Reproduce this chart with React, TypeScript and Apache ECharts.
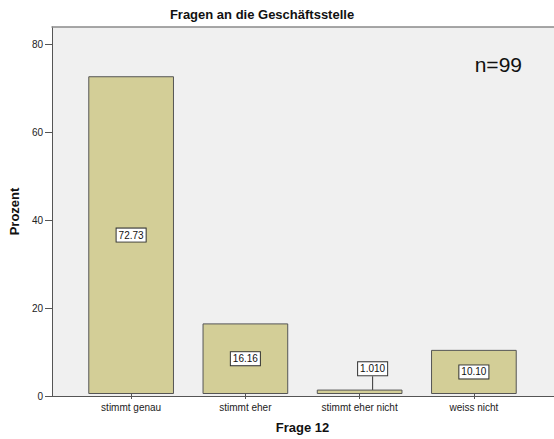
import React, { useEffect, useRef } from "react";
import * as echarts from "echarts";

const categories = ["stimmt genau", "stimmt eher", "stimmt eher nicht", "weiss nicht"];
const values = [72.73, 16.16, 1.01, 10.1];
const valueLabels = ["72.73", "16.16", "1.010", "10.10"];
const yTicks = { min: 0, max: 84, interval: 20 };
const titleText = "Fragen an die Geschäftsstelle";
const nText = "n=99";
const xName = "Frage 12";
const yName = "Prozent";

const FONT = "Liberation Sans, Arial, sans-serif";

export default function App() {
  const ref = useRef<HTMLDivElement>(null);
  useEffect(() => {
    if (!ref.current) return;
    const chart = echarts.init(ref.current, undefined, { renderer: "svg" });
    chart.setOption({
      animation: false,
      backgroundColor: "#ffffff",
      textStyle: { fontFamily: FONT },
      graphic: [
        {
          type: "text",
          x: 262,
          y: 8,
          style: {
            text: titleText,
            fontFamily: FONT,
            fontSize: 13,
            fontWeight: "bold",
            fill: "#111",
            textAlign: "center",
            textVerticalAlign: "top",
          },
        },
        {
          type: "text",
          x: 522,
          y: 54,
          style: {
            text: nText,
            fontFamily: FONT,
            fontSize: 21,
            fill: "#111",
            textAlign: "right",
            textVerticalAlign: "top",
          },
        },
      ],
      grid: [
        {
          left: 48,
          right: -2,
          top: 27,
          bottom: 43,
          show: true,
          backgroundColor: "#F0F0F0",
          borderWidth: 0,
        },
        { left: 74, right: 23, top: 27, bottom: 43 },
      ],
      xAxis: [
        {
          gridIndex: 0,
          type: "category",
          data: [""],
          axisLine: { show: true, lineStyle: { color: "#555", width: 1 } },
          axisTick: { show: false },
          axisLabel: { show: false },
          splitLine: { show: false },
        },
        {
          gridIndex: 1,
          type: "category",
          data: categories,
          name: xName,
          nameLocation: "middle",
          nameGap: 27,
          nameTextStyle: { fontFamily: FONT, fontSize: 13, fontWeight: "bold", color: "#111" },
          axisLine: { show: false },
          axisTick: { show: true, alignWithLabel: true, length: 5, lineStyle: { color: "#555" } },
          axisLabel: { fontFamily: FONT, fontSize: 10, color: "#222", margin: 8 },
          splitLine: { show: false },
        },
        {
          gridIndex: 0,
          type: "category",
          position: "top",
          data: [""],
          axisLine: { show: true, lineStyle: { color: "#8a8a8a", width: 1.5 } },
          axisTick: { show: false },
          axisLabel: { show: false },
          splitLine: { show: false },
        },
      ],
      yAxis: [
        {
          gridIndex: 0,
          type: "value",
          min: yTicks.min,
          max: yTicks.max,
          interval: yTicks.interval,
          name: yName,
          nameLocation: "middle",
          nameGap: 29,
          nameTextStyle: { fontFamily: FONT, fontSize: 13, fontWeight: "bold", color: "#111" },
          axisLine: { show: true, lineStyle: { color: "#555", width: 1 } },
          axisTick: { show: true, length: 7, lineStyle: { color: "#555" } },
          axisLabel: {
            fontFamily: FONT,
            fontSize: 10,
            color: "#222",
            margin: 9,
            showMaxLabel: false,
          },
          splitLine: { show: false },
        },
        {
          gridIndex: 1,
          type: "value",
          min: yTicks.min,
          max: yTicks.max,
          interval: yTicks.interval,
          show: false,
          splitLine: { show: false },
        },
      ],
      series: [
        {
          type: "bar",
          xAxisIndex: 1,
          yAxisIndex: 1,
          barWidth: "75%",
          itemStyle: { color: "#D3CE97", borderColor: "#555", borderWidth: 1 },
          label: {
            show: true,
            position: "inside",
            formatter: (p: any) => valueLabels[p.dataIndex],
            fontFamily: FONT,
            fontSize: 10,
            color: "#111",
            backgroundColor: "#ffffff",
            borderColor: "#333",
            borderWidth: 1,
            padding: [2, 2, 1, 2],
          },
          labelLayout: (p: any) => (p.dataIndex === 2 ? { dx: 13, dy: -23 } : {}),
          data: values.map((v, i) =>
            i === 2
              ? { value: v, labelLine: { show: true, lineStyle: { color: "#333", width: 1 } } }
              : v
          ),
        },
      ],
    });
    return () => chart.dispose();
  }, []);
  return (
    <div
      ref={ref}
      style={{ position: "absolute", left: 0, top: 0, width: 554, height: 439 }}
    />
  );
}
